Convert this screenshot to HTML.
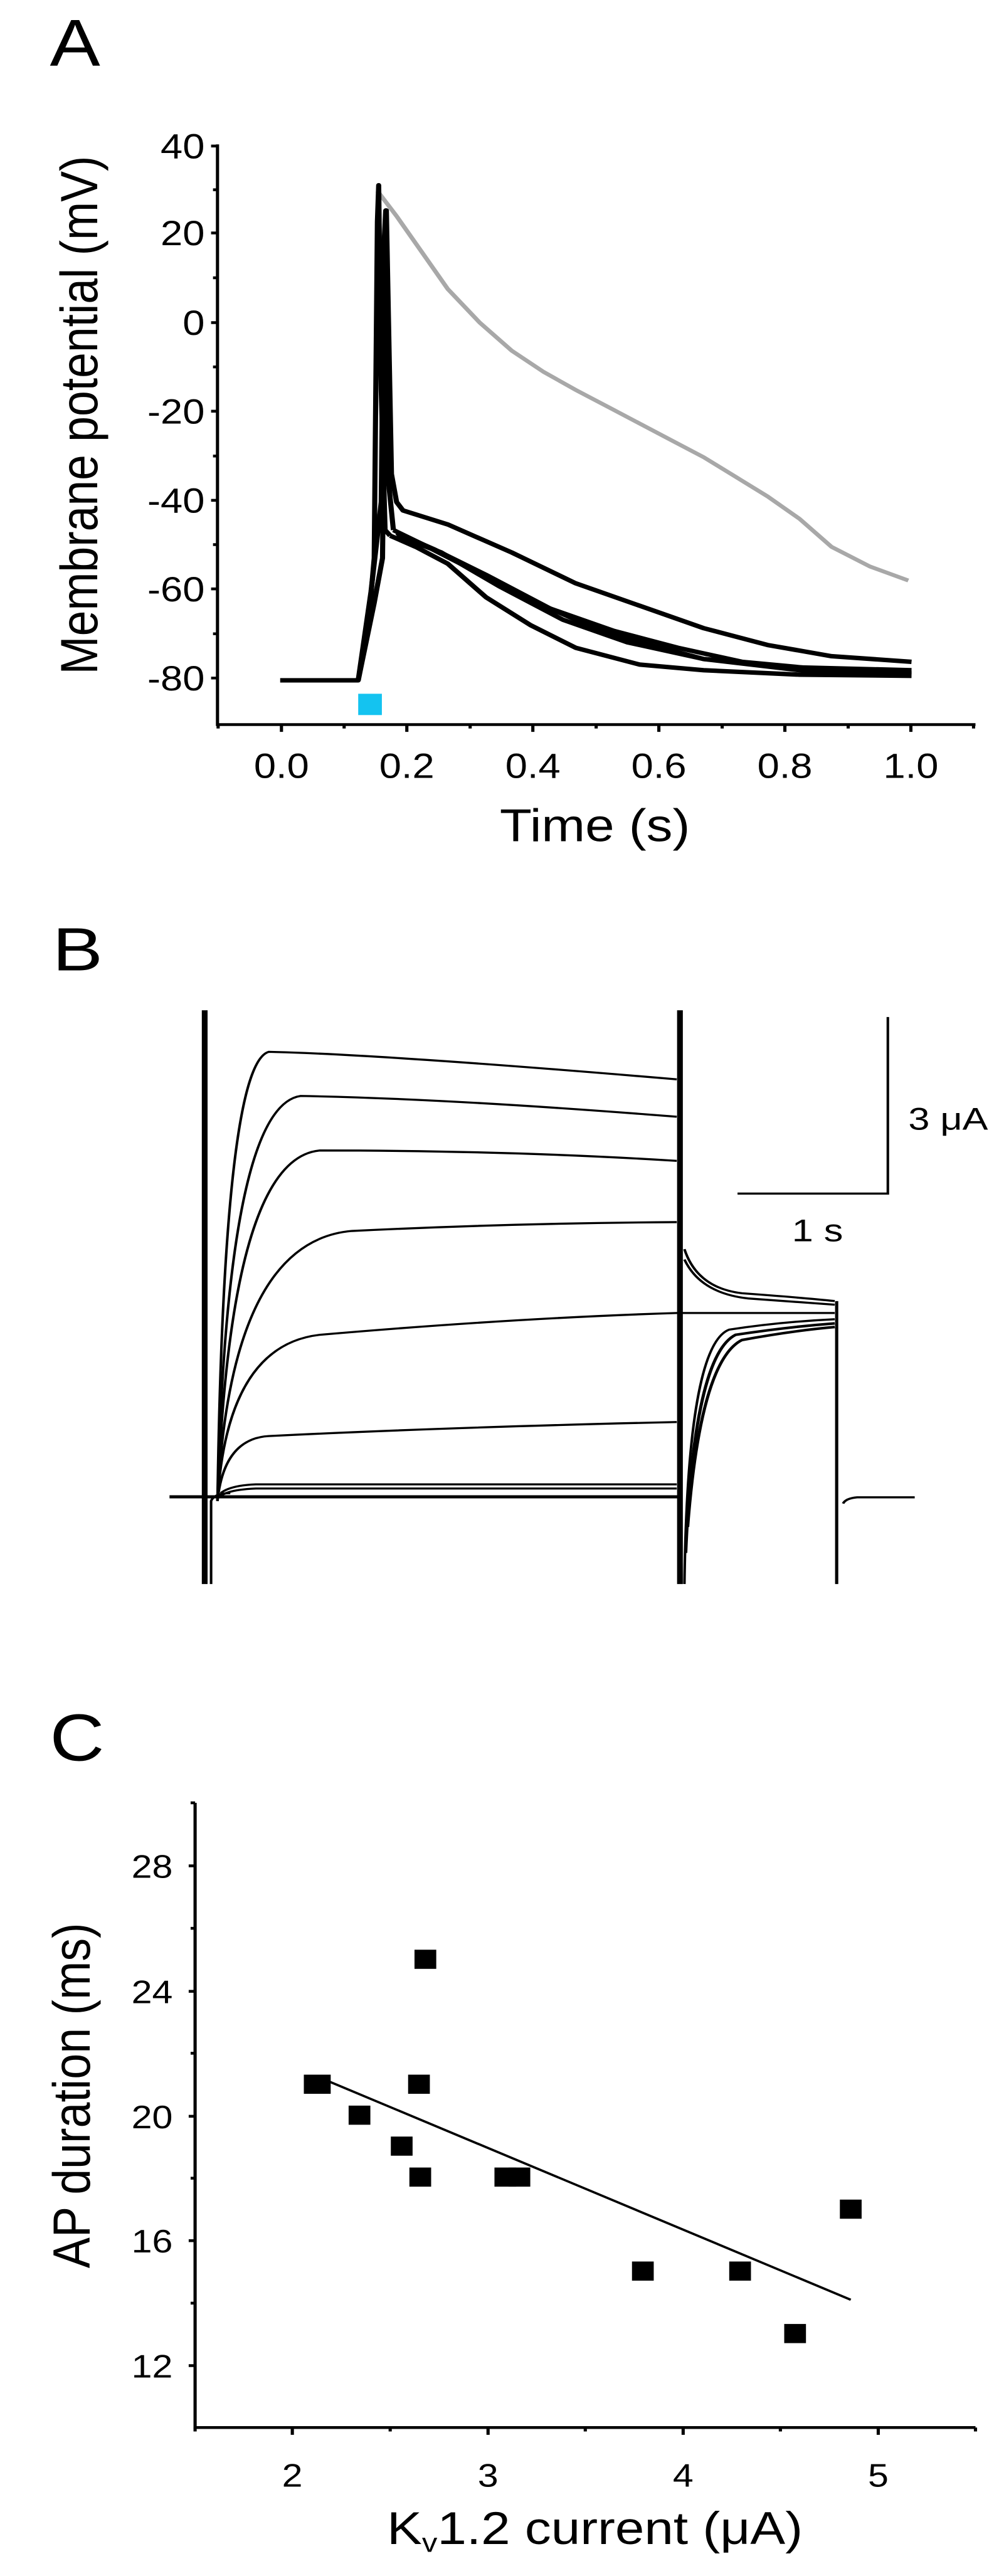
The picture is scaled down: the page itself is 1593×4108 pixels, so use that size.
<!DOCTYPE html>
<html><head><meta charset="utf-8"><style>
html,body{margin:0;padding:0;background:#fff;}
svg{display:block;}
text{font-family:"Liberation Sans",Arial,sans-serif;fill:#000;}
</style></head><body>
<svg width="1593" height="4108" viewBox="0 0 1593 4108" xmlns="http://www.w3.org/2000/svg">
<rect width="1593" height="4108" fill="#fff"/>
<!-- Panel A -->
<g transform="translate(0,-4) scale(1.02,0.894)">
<text x="78" y="122" font-size="118">A</text>
<g stroke="#000" stroke-width="5" fill="none">
<path d="M340 262 V1297 H1525"/>
<path d="M330 265 H340 M330 420 H340 M330 580 H340 M330 738 H340 M330 897 H340 M330 1055 H340 M330 1214 H340"/>
<path d="M333 343 H340 M333 500 H340 M333 659 H340 M333 818 H340 M333 976 H340 M333 1135 H340"/>
<path d="M440 1297 V1310 M636 1297 V1310 M833 1297 V1310 M1030 1297 V1310 M1227 1297 V1310 M1424 1297 V1310"/>
<path d="M341 1297 V1304 M538 1297 V1304 M735 1297 V1304 M932 1297 V1304 M1129 1297 V1304 M1326 1297 V1304 M1522 1297 V1304"/>
</g>
<g font-size="62" text-anchor="end">
<text x="320" y="287">40</text><text x="320" y="442">20</text><text x="320" y="602">0</text>
<text x="320" y="760">-20</text><text x="320" y="919">-40</text><text x="320" y="1077">-60</text><text x="320" y="1236">-80</text>
</g>
<g font-size="62" text-anchor="middle">
<text x="440" y="1392">0.0</text><text x="636" y="1392">0.2</text><text x="833" y="1392">0.4</text>
<text x="1030" y="1392">0.6</text><text x="1227" y="1392">0.8</text><text x="1424" y="1392">1.0</text>
</g>
<text x="930" y="1505" font-size="82" text-anchor="middle">Time (s)</text>
<text transform="translate(152,745) rotate(-90)" font-size="82" text-anchor="middle">Membrane potential (mV)</text>
<rect x="560" y="1242" width="37" height="38" fill="#14c3f0"/>
<path d="M590 345 L620 390 L660 455 L700 520 L750 580 L800 630 L850 668 L900 700 L950 730 L1000 760 L1050 790 L1100 820 L1150 855 L1200 890 L1250 930 L1300 980 L1360 1015 L1420 1040" stroke="#a8a8a8" stroke-width="7" fill="none"/>
<g stroke="#000" stroke-width="8" fill="none" stroke-linejoin="round">
<path d="M438 1218 L560 1218 L575 1130 L585 1000 L590 400 L592 335 L596 700 L602 950 L610 960"/>
<path d="M560 1218 L580 1060 L596 900 L600 450 L603 380 L607 860 L615 950"/>
<path d="M560 1218 L585 1080 L598 1000 L604 380 L612 850 L620 900 L630 915 L700 940 L800 990 L900 1045 L1000 1085 L1100 1125 L1200 1155 L1300 1175 L1425 1185"/>
<path d="M610 960 L650 980 L700 1010 L760 1070 L830 1120 L900 1160 L1000 1190 L1100 1200 L1250 1208 L1425 1210"/>
<path d="M615 950 L660 975 L720 1010 L800 1060 L900 1110 L1000 1150 L1100 1180 L1250 1200 L1425 1208"/>
<path d="M620 955 L680 985 L760 1030 L860 1090 L960 1130 L1060 1160 L1160 1185 L1300 1200 L1425 1205"/>
<path d="M620 960 L690 990 L780 1050 L880 1110 L980 1150 L1100 1180 L1250 1195 L1425 1200"/>
</g>
</g>
<!-- Panel B -->
<g transform="translate(0,1400) scale(1.02,0.828)">
<text x="82" y="178" font-size="118">B</text>
<g stroke="#000" fill="none" stroke-width="4">
<path d="M320 255 V1360" stroke-width="9"/>
<path d="M1063 255 V1360" stroke-width="9"/>
<path d="M1308 815 V1360" stroke-width="5"/>
<path d="M265 1192 H1062" stroke-width="6"/>
<path d="M1318 1205 Q1322 1195 1340 1193 H1430"/>
<path d="M1388 268 V608 H1153" stroke-width="4"/>
<path d="M330 1360 V1200 Q335 1185 360 1185"/>
<path d="M340 1200 Q350 360 420 335 Q600 340 1058 388"/>
<path d="M340 1200 Q355 440 470 420 Q700 425 1058 460"/>
<path d="M340 1200 Q360 540 500 525 Q800 525 1058 545"/>
<path d="M340 1200 Q360 700 550 680 Q800 665 1058 663"/>
<path d="M340 1200 Q355 900 500 880 Q800 848 1058 838 H1305"/>
<path d="M340 1200 Q350 1080 420 1075 Q700 1058 1058 1048"/>
<path d="M345 1185 Q360 1170 400 1168 H1058"/>
<path d="M345 1190 Q360 1178 400 1176 H1058"/>
<path d="M1070 715 Q1090 790 1160 800 Q1250 808 1305 815"/>
<path d="M1070 735 Q1095 800 1170 810 Q1250 817 1305 822"/>
<path d="M1070 1360 Q1075 900 1140 870 Q1220 855 1305 850"/>
<path d="M1072 1300 Q1085 920 1150 880 Q1230 865 1305 858" stroke-width="5"/>
<path d="M1075 1250 Q1095 930 1160 890 Q1240 872 1305 865" stroke-width="5"/>
</g>
<text x="1420" y="485" font-size="60">3 μA</text>
<text x="1278" y="700" font-size="60" text-anchor="middle">1 s</text>
</g>
<!-- Panel C -->
<g transform="translate(0,2700) scale(1.02,0.8975)">
<text x="78" y="120" font-size="118">C</text>
<g stroke="#000" stroke-width="5" fill="none">
<path d="M305 195 V1305 H1525"/>
<path d="M295 307 H305 M295 530 H305 M295 752 H305 M295 973 H305 M295 1195 H305"/>
<path d="M298 195 H305 M298 418 H305 M298 640 H305 M298 862 H305 M298 1084 H305"/>
<path d="M457 1305 V1318 M763 1305 V1318 M1068 1305 V1318 M1373 1305 V1318"/>
<path d="M305 1305 V1312 M610 1305 V1312 M915 1305 V1312 M1220 1305 V1312 M1525 1305 V1312"/>
<path d="M510 688 L1330 1078" stroke-width="4"/>
</g>
<g font-size="58" text-anchor="end">
<text x="270" y="328">28</text><text x="270" y="551">24</text><text x="270" y="773">20</text>
<text x="270" y="994">16</text><text x="270" y="1216">12</text>
</g>
<g font-size="58" text-anchor="middle">
<text x="457" y="1410">2</text><text x="763" y="1410">3</text><text x="1068" y="1410">4</text><text x="1373" y="1410">5</text>
</g>
<text x="930" y="1512" font-size="82" text-anchor="middle">K<tspan font-size="48" dy="14">v</tspan><tspan dy="-14">1.2 current (μA)</tspan></text>
<text transform="translate(140,715) rotate(-90)" font-size="82" text-anchor="middle">AP duration (ms)</text>
<g fill="#000">
<rect x="475" y="678" width="34" height="34"/><rect x="483" y="678" width="34" height="34"/>
<rect x="545" y="733" width="34" height="34"/><rect x="611" y="788" width="34" height="34"/>
<rect x="640" y="843" width="34" height="34"/><rect x="638" y="678" width="34" height="34"/>
<rect x="648" y="456" width="34" height="34"/><rect x="773" y="843" width="34" height="34"/>
<rect x="795" y="843" width="34" height="34"/><rect x="988" y="1010" width="34" height="34"/>
<rect x="1140" y="1010" width="34" height="34"/><rect x="1226" y="1121" width="34" height="34"/>
<rect x="1313" y="900" width="34" height="34"/>
</g>
</g>
</svg>
</body></html>
